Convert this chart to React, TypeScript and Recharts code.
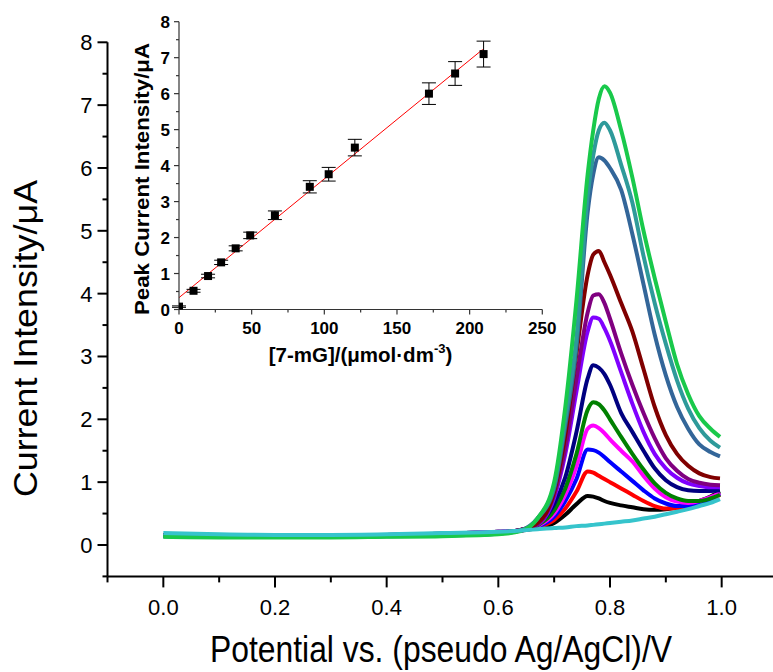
import React from 'react';
import {
  LineChart, Line, XAxis, YAxis, ComposedChart, Scatter, ErrorBar, ReferenceLine,
} from 'recharts';

// potential grid (V) shared by every voltammogram
const POTENTIAL = [0, 0.1, 0.2, 0.3, 0.4, 0.5, 0.6, 0.64, 0.67, 0.7, 0.72, 0.74, 0.76, 0.77, 0.78, 0.79, 0.8, 0.82, 0.84, 0.86, 0.88, 0.9, 0.92, 0.94, 0.96, 0.98, 0.997];

const C_BLACK = [0.16, 0.15, 0.15, 0.15, 0.16, 0.18, 0.21, 0.23, 0.27, 0.35, 0.48, 0.65, 0.78, 0.77, 0.74, 0.7, 0.67, 0.63, 0.6, 0.57, 0.56, 0.57, 0.6, 0.64, 0.7, 0.77, 0.85];
const C_RED = [0.16, 0.15, 0.15, 0.15, 0.16, 0.18, 0.21, 0.23, 0.28, 0.4, 0.58, 0.85, 1.17, 1.15, 1.1, 1.05, 1.0, 0.9, 0.8, 0.7, 0.62, 0.58, 0.58, 0.6, 0.65, 0.72, 0.8];
const C_BLUE = [0.16, 0.15, 0.15, 0.15, 0.16, 0.18, 0.21, 0.23, 0.29, 0.45, 0.7, 1.05, 1.52, 1.51, 1.47, 1.4, 1.32, 1.17, 1.02, 0.87, 0.74, 0.66, 0.62, 0.62, 0.66, 0.73, 0.82];
const C_MAGENTA = [0.16, 0.15, 0.15, 0.15, 0.16, 0.18, 0.21, 0.23, 0.3, 0.5, 0.8, 1.25, 1.85, 1.9, 1.86, 1.78, 1.68, 1.5, 1.33, 1.1, 0.9, 0.76, 0.69, 0.67, 0.7, 0.76, 0.83];
const C_GREEN = [0.15, 0.14, 0.14, 0.14, 0.15, 0.17, 0.2, 0.23, 0.31, 0.55, 0.9, 1.45, 2.15, 2.27, 2.24, 2.14, 2.0, 1.72, 1.45, 1.2, 0.98, 0.83, 0.74, 0.7, 0.7, 0.74, 0.8];
const C_NAVY = [0.15, 0.14, 0.14, 0.14, 0.15, 0.17, 0.2, 0.24, 0.33, 0.65, 1.08, 1.8, 2.65, 2.86, 2.82, 2.72, 2.55, 2.1, 1.8, 1.5, 1.22, 1.03, 0.92, 0.87, 0.86, 0.86, 0.87];
const C_VIOLET = [0.15, 0.14, 0.14, 0.14, 0.15, 0.17, 0.2, 0.24, 0.32, 0.75, 1.45, 2.45, 3.4, 3.62, 3.6, 3.45, 3.25, 2.75, 2.25, 1.8, 1.45, 1.22, 1.07, 0.98, 0.94, 0.92, 0.92];
const C_PURPLE = [0.15, 0.14, 0.14, 0.14, 0.15, 0.17, 0.2, 0.24, 0.33, 0.8, 1.55, 2.65, 3.7, 3.97, 3.99, 3.85, 3.6, 3.05, 2.55, 2.1, 1.7, 1.38, 1.18, 1.05, 0.99, 0.96, 0.95];
const C_MAROON = [0.15, 0.14, 0.14, 0.14, 0.15, 0.17, 0.2, 0.24, 0.35, 0.85, 1.75, 3.05, 4.3, 4.62, 4.68, 4.5, 4.3, 3.85, 3.4, 2.8, 2.2, 1.75, 1.45, 1.26, 1.14, 1.08, 1.06];
const C_STEEL = [0.14, 0.13, 0.13, 0.13, 0.14, 0.15, 0.18, 0.23, 0.42, 0.9, 1.9, 3.15, 5.3, 5.9, 6.17, 6.12, 6.0, 5.65, 4.95, 4.15, 3.35, 2.7, 2.2, 1.85, 1.6, 1.48, 1.41];
const C_TEAL = [0.14, 0.13, 0.13, 0.13, 0.14, 0.15, 0.18, 0.23, 0.42, 0.95, 2.0, 3.3, 5.55, 6.2, 6.6, 6.72, 6.6, 6.05, 5.45, 4.6, 3.85, 3.2, 2.62, 2.17, 1.86, 1.66, 1.55];
const C_LIME = [0.13, 0.12, 0.12, 0.12, 0.13, 0.14, 0.17, 0.22, 0.42, 1.0, 2.2, 3.9, 5.9, 6.6, 7.1, 7.3, 7.2, 6.6, 5.85, 5.0, 4.25, 3.55, 2.88, 2.4, 2.05, 1.85, 1.72];
const C_BLANK = [0.19, 0.17, 0.16, 0.16, 0.17, 0.19, 0.21, 0.23, 0.25, 0.27, 0.28, 0.3, 0.31, 0.32, 0.33, 0.34, 0.35, 0.37, 0.39, 0.42, 0.45, 0.49, 0.53, 0.57, 0.62, 0.67, 0.73];

const CURVES = [
  { key: 'black', values: C_BLACK, color: '#000000' },
  { key: 'red', values: C_RED, color: '#ff0000' },
  { key: 'blue', values: C_BLUE, color: '#0000ff' },
  { key: 'magenta', values: C_MAGENTA, color: '#ff00ff' },
  { key: 'green', values: C_GREEN, color: '#008000' },
  { key: 'navy', values: C_NAVY, color: '#000080' },
  { key: 'violet', values: C_VIOLET, color: '#8000ff' },
  { key: 'purple', values: C_PURPLE, color: '#800080' },
  { key: 'maroon', values: C_MAROON, color: '#800000' },
  { key: 'steel', values: C_STEEL, color: '#336699' },
  { key: 'teal', values: C_TEAL, color: '#2e9a9a' },
  { key: 'lime', values: C_LIME, color: '#19c94b' },
  { key: 'blank', values: C_BLANK, color: '#36c4cc' },
];

const X_TICKS = [-0.1, 0, 0.1, 0.2, 0.3, 0.4, 0.5, 0.6, 0.7, 0.8, 0.9, 1.0, 1.1];
const X_LABELS = [0, 0.2, 0.4, 0.6, 0.8, 1.0];
const Y_TICKS = [-0.5, 0, 0.5, 1, 1.5, 2, 2.5, 3, 3.5, 4, 4.5, 5, 5.5, 6, 6.5, 7, 7.5, 8];

// inset: calibration plot
const CONC = [0, 10, 20, 29, 39, 49, 66, 90, 103, 121, 172, 190, 209.6];
const PEAK = [0.08, 0.52, 0.93, 1.31, 1.7, 2.06, 2.62, 3.41, 3.76, 4.5, 6.0, 6.56, 7.1];
const ERR = [0.02, 0.04, 0.05, 0.06, 0.07, 0.09, 0.12, 0.17, 0.19, 0.23, 0.3, 0.33, 0.36];
const FIT_C = [0, 209];
const FIT_I = [0.33, 7.23];
const INSET_X_TICKS = [0, 25, 50, 75, 100, 125, 150, 175, 200, 225, 250];
const INSET_Y_TICKS = [0, 0.5, 1, 1.5, 2, 2.5, 3, 3.5, 4, 4.5, 5, 5.5, 6, 6.5, 7, 7.5, 8];

const rows = POTENTIAL.map((x, i) => {
  const r: any = { x };
  CURVES.forEach((c) => { r[c.key] = c.values[i]; });
  return r;
});
const points = CONC.map((c, i) => ({ c, i: PEAK[i], err: ERR[i] }));

const FONT = '"Liberation Sans", Arial, sans-serif';

function MainXTick(props: any) {
  const { x, y, payload } = props;
  const v = payload.value;
  const major = X_LABELS.some((l) => Math.abs(l - v) < 1e-6);
  return (
    <g>
      <line x1={x} y1={y} x2={x} y2={y + (major ? 11 : 6)} stroke="#000" strokeWidth={2} />
      {major && (
        <text x={x} y={y + 38.6} textAnchor="middle" fontSize={22} fill="#000" fontFamily={FONT}>
          {v.toFixed(1)}
        </text>
      )}
    </g>
  );
}

function MainYTick(props: any) {
  const { x, y, payload } = props;
  const v = payload.value;
  const major = Number.isInteger(v);
  return (
    <g>
      <line x1={x} y1={y} x2={x - (major ? 10 : 5)} y2={y} stroke="#000" strokeWidth={2} />
      {major && (
        <text x={x - 15} y={y + 8} textAnchor="end" fontSize={22} fill="#000" fontFamily={FONT}>
          {v}
        </text>
      )}
    </g>
  );
}

function InsetXTick(props: any) {
  const { x, y, payload } = props;
  const v = payload.value;
  const major = v % 50 === 0;
  return (
    <g>
      <line x1={x} y1={y} x2={x} y2={y + (major ? 5 : 3)} stroke="#333" strokeWidth={1.2} />
      {major && (
        <text x={x} y={y + 24.5} textAnchor="middle" fontSize={17} fontWeight="bold" fill="#000" fontFamily={FONT}>
          {v}
        </text>
      )}
    </g>
  );
}

function InsetYTick(props: any) {
  const { x, y, payload } = props;
  const v = payload.value;
  const major = Number.isInteger(v);
  return (
    <g>
      <line x1={x} y1={y} x2={x - (major ? 5 : 3)} y2={y} stroke="#333" strokeWidth={1.2} />
      {major && (
        <text x={x - 9} y={y + 6} textAnchor="end" fontSize={17} fontWeight="bold" fill="#000" fontFamily={FONT}>
          {v}
        </text>
      )}
    </g>
  );
}

const squareShape = (p: any) => <rect x={p.cx - 4} y={p.cy - 4} width={8} height={8} fill="#000" />;

export default function App() {
  return (
    <div style={{ position: 'absolute', left: 0, top: 0, width: 773, height: 672, overflow: 'hidden', background: '#fff', fontFamily: FONT }}>
      <div style={{ position: 'absolute', left: 0, top: 0 }}>
        <LineChart width={800} height={672} data={rows} margin={{ top: 42.3, right: 22.5, bottom: 35.6, left: 47.5 }}>
          <XAxis
            dataKey="x" type="number" domain={[-0.1, 1.1]} ticks={X_TICKS} interval={0}
            height={60} tickSize={0} tickMargin={0} tickLine={false}
            axisLine={{ stroke: '#000', strokeWidth: 2 }} tick={<MainXTick />} allowDataOverflow
          />
          <YAxis
            type="number" domain={[-0.5, 8]} ticks={Y_TICKS} interval={0}
            width={60} tickSize={0} tickMargin={0} tickLine={false}
            axisLine={{ stroke: '#000', strokeWidth: 2 }} tick={<MainYTick />} allowDataOverflow
          />
          {CURVES.map((c) => (
            <Line key={c.key} dataKey={c.key} type="monotone" stroke={c.color} strokeWidth={4}
              dot={false} isAnimationActive={false} />
          ))}
        </LineChart>
      </div>
      <div style={{ position: 'absolute', left: 0, top: 0 }}>
        <ComposedChart width={560} height={380} margin={{ top: 21.7, right: 17.7, bottom: 40.5, left: 149 }}>
          <XAxis
            dataKey="c" type="number" domain={[0, 250]} ticks={INSET_X_TICKS} interval={0}
            height={30} tickSize={0} tickMargin={0} tickLine={false}
            axisLine={{ stroke: '#333', strokeWidth: 1.2 }} tick={<InsetXTick />} allowDataOverflow
          />
          <YAxis
            dataKey="i" type="number" domain={[0, 8]} ticks={INSET_Y_TICKS} interval={0}
            width={30} tickSize={0} tickMargin={0} tickLine={false}
            axisLine={{ stroke: '#333', strokeWidth: 1.2 }} tick={<InsetYTick />} allowDataOverflow
          />
          <ReferenceLine
            segment={[{ x: FIT_C[0], y: FIT_I[0] }, { x: FIT_C[1], y: FIT_I[1] }]}
            stroke="#ff0000" strokeWidth={1}
          />
          <Scatter data={points} shape={squareShape} isAnimationActive={false}>
            <ErrorBar dataKey="err" direction="y" width={7} stroke="#000" strokeWidth={1} />
          </Scatter>
        </ComposedChart>
      </div>
      <svg width={773} height={672} style={{ position: 'absolute', left: 0, top: 0, pointerEvents: 'none' }}>
        <text transform="translate(37,338.5) rotate(-90)" textAnchor="middle" fontSize={33}
          textLength={317} lengthAdjust="spacingAndGlyphs" fontFamily={FONT} fill="#000">
          Current Intensity/μA
        </text>
        <text x={441} y={662} textAnchor="middle" fontSize={36} textLength={462}
          lengthAdjust="spacingAndGlyphs" fontFamily={FONT} fill="#000">
          Potential vs. (pseudo Ag/AgCl)/V
        </text>
        <text transform="translate(149,179) rotate(-90)" textAnchor="middle" fontSize={21} fontWeight="bold"
          textLength={272} lengthAdjust="spacingAndGlyphs" fontFamily={FONT} fill="#000">
          Peak Current Intensity/μA
        </text>
        <text x={360.5} y={362} textAnchor="middle" fontSize={20.5} fontWeight="bold" fontFamily={FONT} fill="#000">
          [7-mG]/(μmol·dm<tspan fontSize={13} dy={-9}>-3</tspan><tspan dy={9}>)</tspan>
        </text>
      </svg>
    </div>
  );
}
